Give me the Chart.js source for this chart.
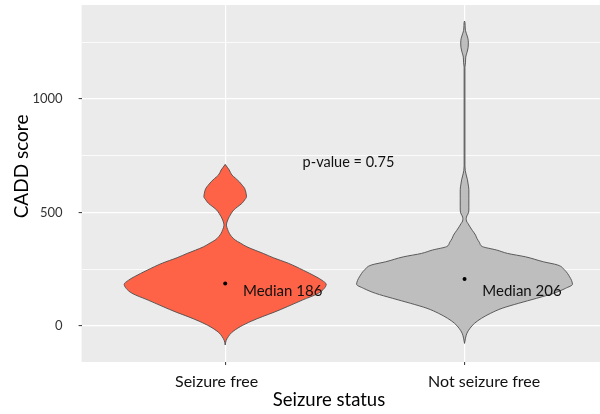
<!DOCTYPE html>
<html>
<head>
<meta charset="utf-8">
<script src="https://cdn.jsdelivr.net/npm/chart.js@4.4.1/dist/chart.umd.min.js"></script>
<style>
  html, body { margin: 0; padding: 0; background: #ffffff; }
  #wrap { width: 600px; height: 414px; }
</style>
</head>
<body>
<div id="wrap"><canvas id="c" width="600" height="414"></canvas></div>
<script>
// Groups on the x axis
const categories = ['Seizure free', 'Not seizure free'];
const medians = [186, 206];
const pValue = 0.75;

// y axis: gridlines every 250, labels every 500
const yGridValues = [0, 250, 500, 750, 1000, 1250];
const yLabelValues = [0, 500, 1000];

// Violin outlines: CADD score and kernel-density half-width (in category units)
const seizureFreeScore = [-85, -65, -48, -30, -4, 20, 40, 60, 84, 113, 143, 165, 183, 200, 216, 245, 276, 300, 319, 333, 348, 365, 378, 393, 408, 425, 444, 462, 481, 495, 510, 525, 540, 555, 569, 585, 606, 620, 635, 650, 665, 687, 700, 712];
const seizureFreeHalf  = [0, 0.004, 0.013, 0.027, 0.063, 0.109, 0.155, 0.205, 0.259, 0.322, 0.389, 0.414, 0.422, 0.405, 0.380, 0.326, 0.263, 0.201, 0.159, 0.125, 0.091, 0.063, 0.042, 0.027, 0.017, 0.010, 0.005, 0.009, 0.017, 0.025, 0.035, 0.052, 0.070, 0.081, 0.089, 0.087, 0.081, 0.071, 0.059, 0.044, 0.028, 0.017, 0.008, 0];

const notSeizureFreeScore = [-78, -55, -33, -11, 11, 33, 55, 77, 99, 121, 143, 165, 183, 200, 216, 246, 268, 282, 304, 319, 334, 349, 366, 385, 400, 420, 436, 450, 462, 473, 485, 500, 520, 560, 600, 625, 645, 665, 685, 705, 1140, 1160, 1185, 1205, 1228, 1247, 1268, 1288, 1302, 1325, 1339, 1344];
const notSeizureFreeHalf  = [0, 0.004, 0.010, 0.023, 0.042, 0.071, 0.109, 0.157, 0.226, 0.301, 0.372, 0.422, 0.451, 0.447, 0.439, 0.418, 0.389, 0.330, 0.255, 0.180, 0.134, 0.075, 0.063, 0.052, 0.046, 0.033, 0.023, 0.015, 0.008, 0.007, 0.010, 0.017, 0.018, 0.018, 0.018, 0.015, 0.012, 0.007, 0.003, 0.0017, 0.0017, 0.004, 0.005, 0.010, 0.015, 0.016, 0.014, 0.008, 0.004, 0.0025, 0.0017, 0];

const violins = [
  { score: seizureFreeScore, half: seizureFreeHalf, fill: '#FF6347' },
  { score: notSeizureFreeScore, half: notSeizureFreeHalf, fill: '#BEBEBE' }
];

const OUTLINE = '#4d4d4d';
const FONT = 'Lato';

function edge(center, score, half, sign) {
  return score.map((v, i) => ({ x: center + sign * half[i], y: v }));
}

const datasets = [{
  data: medians.map((m, i) => ({ x: i + 1, y: m })),
  xAxisID: 'x',
  showLine: false,
  pointRadius: 2,
  pointBackgroundColor: '#000',
  pointBorderWidth: 0
}];

violins.forEach((v, i) => {
  const c = i + 1;
  datasets.push({
    data: edge(c, v.score, v.half, -1),
    xAxisID: 'x',
    borderColor: OUTLINE, borderWidth: 0.9,
    pointRadius: 0, fill: false,
    cubicInterpolationMode: 'monotone'
  });
  datasets.push({
    data: edge(c, v.score, v.half, 1),
    xAxisID: 'x',
    borderColor: OUTLINE, borderWidth: 0.9,
    pointRadius: 0, fill: '-1', backgroundColor: v.fill,
    cubicInterpolationMode: 'monotone'
  });
});

// grey panel behind the plot
const panelBg = {
  id: 'panelBg',
  beforeDraw(chart) {
    const { ctx, chartArea: a } = chart;
    ctx.save();
    ctx.fillStyle = '#EBEBEB';
    ctx.fillRect(a.left, a.top, a.right - a.left, a.bottom - a.top);
    ctx.restore();
  }
};

// median and p-value annotations
const notes = {
  id: 'notes',
  afterDatasetsDraw(chart) {
    const { ctx, scales: { x, y } } = chart;
    ctx.save();
    ctx.fillStyle = '#111';
    ctx.textAlign = 'center';
    ctx.textBaseline = 'middle';
    ctx.font = '15px ' + FONT;
    medians.forEach((m, i) => {
      ctx.fillText('Median ' + m, x.getPixelForValue(i + 1.24), y.getPixelForValue(152));
    });
    ctx.font = '14.5px ' + FONT;
    ctx.fillText('p-value = ' + pValue, x.getPixelForValue(1.515), y.getPixelForValue(720));
    ctx.restore();
  }
};

function noPad(s) {
  s.paddingTop = 0; s.paddingBottom = 0; s.paddingLeft = 0; s.paddingRight = 0;
}

function draw() {
  new Chart(document.getElementById('c'), {
    type: 'line',
    data: { datasets },
    plugins: [panelBg, notes],
    options: {
      indexAxis: 'y',
      responsive: false,
      animation: false,
      layout: { autoPadding: false, padding: { top: 5, left: 0, right: 0, bottom: 0 } },
      plugins: { legend: { display: false }, tooltip: { enabled: false } },
      scales: {
        x: {
          type: 'linear', position: 'bottom', min: 0.4, max: 2.566,
          afterBuildTicks: s => { s.ticks = categories.map((_, i) => ({ value: i + 1 })); },
          afterFit: s => { s.height = 3; noPad(s); },
          grid: { color: '#ffffff', lineWidth: 1.2, tickLength: 3, tickColor: '#333', tickWidth: 1 },
          border: { display: false },
          ticks: { display: false }
        },
        xLab: {
          type: 'linear', axis: 'x', position: 'bottom', min: 0.4, max: 2.566,
          afterBuildTicks: s => { s.ticks = [{ value: 0.964 }, { value: 2.082 }]; },
          afterFit: s => { s.height = 49; noPad(s); },
          grid: { display: false, drawTicks: false },
          border: { display: false },
          ticks: {
            padding: 7, color: '#111', autoSkip: false, maxRotation: 0,
            font: { family: FONT, size: 16 },
            callback: (v, i) => categories[i]
          },
          title: {
            display: true, text: 'Seizure status     ', color: '#000',
            font: { family: FONT, size: 18.5 }, padding: { top: 0, bottom: 3 }
          }
        },
        y: {
          type: 'linear', min: -160, max: 1415,
          afterBuildTicks: s => { s.ticks = yGridValues.map(v => ({ value: v })); },
          afterFit: s => { s.width = 81.6; noPad(s); },
          grid: {
            color: '#ffffff',
            lineWidth: c => yLabelValues.includes(c.tick.value) ? 1.2 : 0.8,
            tickLength: 3,
            tickColor: c => yLabelValues.includes(c.tick.value) ? '#333' : 'rgba(0,0,0,0)',
            tickWidth: 1
          },
          border: { display: false },
          ticks: {
            padding: 16, color: '#333', autoSkip: false,
            font: { family: FONT, size: 13 },
            callback: v => yLabelValues.includes(v) ? String(v) : ''
          },
          title: {
            display: true, text: '       CADD score', color: '#000',
            font: { family: FONT, size: 19 }, padding: { top: 10, bottom: 0 }
          }
        }
      }
    }
  });
}

if (document.fonts && document.fonts.load) {
  Promise.all([document.fonts.load('16px Lato')]).then(draw, draw);
} else {
  draw();
}
</script>
</body>
</html>
